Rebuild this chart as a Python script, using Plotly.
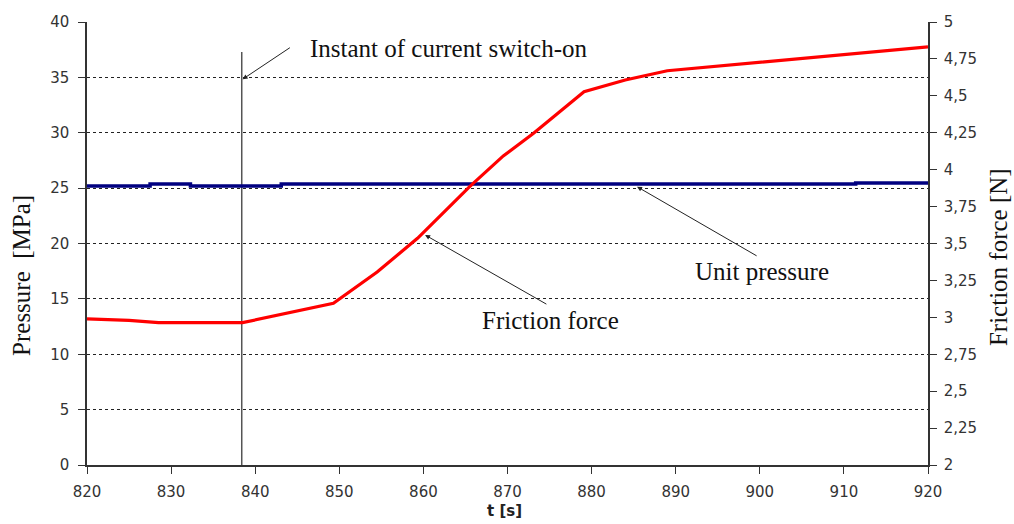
import plotly.graph_objects as go

# ---- data ----
friction_t = [820, 825, 828.5, 838.5, 849.3, 854.5, 859.3, 865.5, 869.5, 873.1, 879.1, 884, 889, 900, 910, 920]
friction_n = [2.989, 2.979, 2.964, 2.964, 3.095, 3.307, 3.535, 3.885, 4.093, 4.246, 4.528, 4.607, 4.670, 4.727, 4.779, 4.831]

pressure_t = [820, 827.5, 832.3, 843.1, 911.4, 920]
pressure_mpa = [25.2, 25.37, 25.2, 25.37, 25.46, 25.46]

switch_on_t = 838.4
switch_line_y = [0, 37.3]

x_ticks = [820, 830, 840, 850, 860, 870, 880, 890, 900, 910, 920]
left_ticks = [0, 5, 10, 15, 20, 25, 30, 35, 40]
right_ticks = [2, 2.25, 2.5, 2.75, 3, 3.25, 3.5, 3.75, 4, 4.25, 4.5, 4.75, 5]

fig = go.Figure()

fig.add_trace(go.Scatter(x=[switch_on_t, switch_on_t], y=switch_line_y, mode="lines",
                         line=dict(color="#555555", width=1.5), showlegend=False, hoverinfo="skip"))
fig.add_trace(go.Scatter(x=pressure_t, y=pressure_mpa, mode="lines", line_shape="hv",
                         line=dict(color="#000080", width=3.5), name="Unit pressure", showlegend=False))
fig.add_trace(go.Scatter(x=friction_t, y=friction_n, mode="lines", yaxis="y2",
                         line=dict(color="#FF0000", width=3.2), name="Friction force", showlegend=False))

tickfont = dict(family="DejaVu Sans", size=15, color="#333333")
serif = dict(family="Liberation Serif", size=25, color="#111111")

fig.update_layout(
    width=1014, height=524,
    margin=dict(l=87, r=86, t=22, b=59),
    paper_bgcolor="white", plot_bgcolor="white",
    separators=", ",
    xaxis=dict(range=[820, 920], tickvals=x_ticks, ticks="outside", ticklen=7, tickcolor="#333",
               showline=True, linecolor="#333", linewidth=1.5, showgrid=False, zeroline=False,
               tickfont=tickfont, ticklabelstandoff=5),
    yaxis=dict(range=[0, 40], tickvals=left_ticks, ticks="outside", ticklen=7, tickcolor="#333",
               showline=True, linecolor="#333", linewidth=1.5, showgrid=True, gridcolor="#222",
               gridwidth=1, griddash="3px,3px", zeroline=False, tickfont=tickfont,
               ticklabelstandoff=6),
    yaxis2=dict(range=[2, 5], tickvals=right_ticks, overlaying="y", side="right", ticks="outside",
                ticklen=7, tickcolor="#333", showline=True, linecolor="#333", linewidth=1.5,
                showgrid=False, zeroline=False, tickfont=tickfont, ticklabelstandoff=4),
    showlegend=False,
)

arrow = dict(showarrow=True, arrowhead=2, arrowsize=1, arrowwidth=1, arrowcolor="#222222",
             xref="x", yref="y", axref="x", ayref="y", text="")
fig.add_annotation(x=838.5, y=34.83, ax=844.3, ay=37.77, **arrow)
fig.add_annotation(x=885.4, y=25.13, ax=899.8, ay=18.81, **arrow)
fig.add_annotation(x=860.2, y=20.77, ax=874.8, ay=14.45, **arrow)

txt = dict(showarrow=False, font=serif, xref="x", yref="y", xanchor="center", yanchor="middle")
fig.add_annotation(x=863.0, y=37.65, text="Instant of current switch-on", **txt)
fig.add_annotation(x=900.3, y=17.45, text="Unit pressure", **txt)
fig.add_annotation(x=875.1, y=13.09, text="Friction force", **txt)

ptxt = dict(showarrow=False, xref="paper", yref="paper", xanchor="center", yanchor="middle")
fig.add_annotation(x=-0.0773, y=0.429, text="Pressure  [MPa]", textangle=-90, font=serif, **ptxt)
fig.add_annotation(x=1.0833, y=0.4695, text="Friction force [N]", textangle=-90, font=serif, **ptxt)
fig.add_annotation(x=0.497, y=-0.104, text="<b>t [s]</b>",
                   font=dict(family="DejaVu Sans", size=15, color="#222222"), **ptxt)

fig.write_html("out.html")
